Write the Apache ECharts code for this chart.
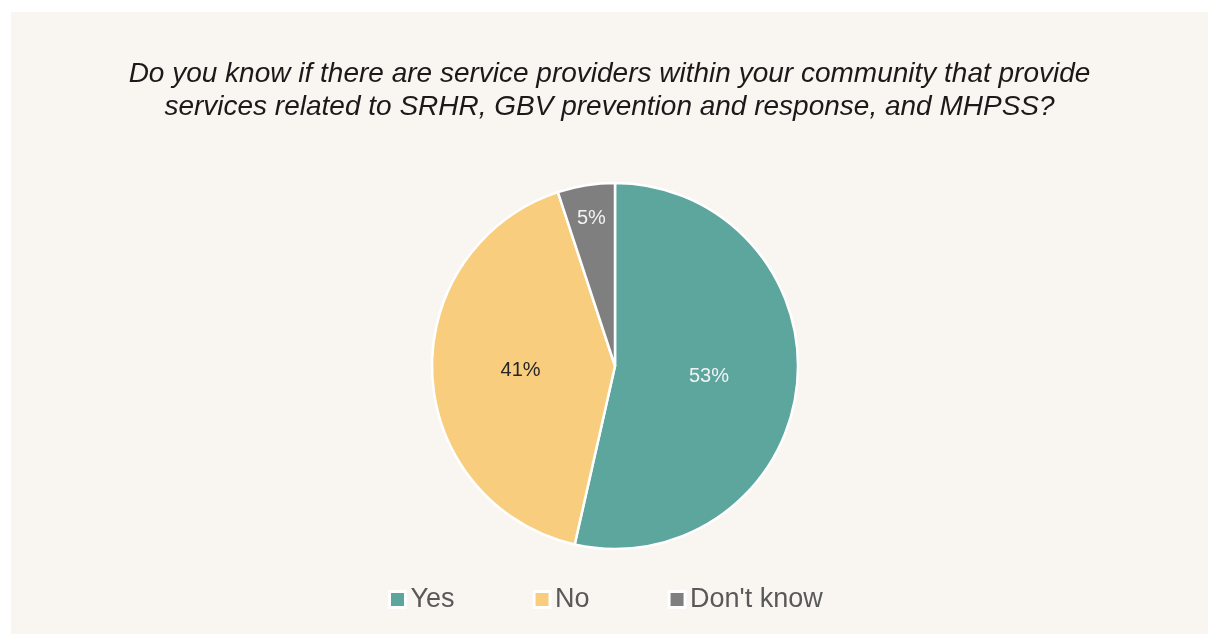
<!DOCTYPE html>
<html>
<head>
<meta charset="utf-8">
<script src="https://cdn.jsdelivr.net/npm/echarts@6/dist/echarts.min.js"></script>
<style>
  html, body { margin: 0; padding: 0; background: #ffffff; }
  #chart { position: absolute; left: 11px; top: 12px; width: 1197px; height: 622px; }
</style>
</head>
<body>
<div id="chart"></div>
<script>
// Survey answers and their shares (%)
const categories = ['Yes', 'No', "Don't know"];
const shares = [53, 41, 5];
const sliceColors = ['#5DA69E', '#F8CE7E', '#7F7F7F'];
const labelColors = ['#F2F2F2', '#262626', '#F2F2F2'];
// Small slices get their label placed in an outer ring so it stays readable
const outerLabel = [false, false, true];

const titleText = 'Do you know if there are service providers within your community that provide\nservices related to SRHR, GBV prevention and response, and MHPSS?';

const FONT = 'Liberation Sans, Arial, sans-serif';
const R = 183;

const chart = echarts.init(document.getElementById('chart'), null, { renderer: 'canvas' });

const labelBase = {
  position: 'inside',
  formatter: '{c}%',
  fontFamily: FONT,
  fontSize: 20
};

chart.setOption({
  backgroundColor: '#F9F6F1',
  animation: false,
  title: {
    text: titleText,
    left: 'center',
    top: 41,
    textStyle: {
      fontFamily: FONT,
      fontStyle: 'italic',
      fontWeight: 'normal',
      fontSize: 28,
      lineHeight: 33,
      color: '#1a1a1a'
    }
  },
  legend: {
    data: categories,
    left: 372,
    top: 569,
    icon: 'rect',
    itemWidth: 16,
    itemHeight: 16,
    itemGap: 78,
    itemStyle: { borderColor: '#ffffff', borderWidth: 3 },
    textStyle: {
      fontFamily: FONT,
      fontSize: 27,
      color: '#595959'
    }
  },
  series: [{
    // main pie
    type: 'pie',
    center: [604, 354],
    radius: R,
    startAngle: 90,
    clockwise: true,
    avoidLabelOverlap: false,
    itemStyle: { borderColor: '#ffffff', borderWidth: 2.5 },
    label: labelBase,
    labelLine: { show: false },
    emphasis: { disabled: true },
    data: categories.map((name, i) => ({
      name: name,
      value: shares[i],
      itemStyle: { color: sliceColors[i] },
      label: { show: !outerLabel[i], color: labelColors[i] }
    }))
  }, {
    // transparent outer ring carrying the labels of thin slices
    type: 'pie',
    center: [604, 354],
    radius: [110, R],
    startAngle: 90,
    clockwise: true,
    silent: true,
    avoidLabelOverlap: false,
    itemStyle: { color: 'rgba(0,0,0,0)', borderWidth: 0 },
    label: labelBase,
    labelLine: { show: false },
    emphasis: { disabled: true },
    data: categories.map((name, i) => ({
      name: name,
      value: shares[i],
      label: { show: outerLabel[i], color: labelColors[i] }
    }))
  }]
});
</script>
</body>
</html>
